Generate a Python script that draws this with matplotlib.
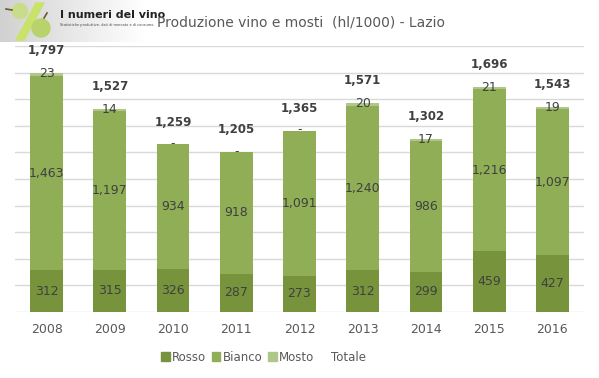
import matplotlib
matplotlib.use("Agg")
from matplotlib import pyplot as plt
from matplotlib.patches import Patch, Circle, Polygon
import numpy as np

years = ["2008", "2009", "2010", "2011", "2012", "2013", "2014", "2015", "2016"]
rosso = [312, 315, 326, 287, 273, 312, 299, 459, 427]
bianco = [1463, 1197, 934, 918, 1091, 1240, 986, 1216, 1097]
mosto = [23, 14, 0, 0, 0, 20, 17, 21, 19]
totale = [1797, 1527, 1259, 1205, 1365, 1571, 1302, 1696, 1543]

c_rosso = "#77933C"
c_bianco = "#8FAE55"
c_mosto = "#AEC889"
txt = "#404040"

fig = plt.figure(figsize=(5.99, 3.78), dpi=100)
ax = fig.add_axes([0.025, 0.175, 0.95, 0.703])

x = np.arange(len(years))
w = 0.52
ax.bar(x, rosso, w, color=c_rosso, zorder=3)
bot2 = np.array(rosso)
ax.bar(x, bianco, w, bottom=bot2, color=c_bianco, zorder=3)
bot3 = bot2 + np.array(bianco)
ax.bar(x, mosto, w, bottom=bot3, color=c_mosto, zorder=3)

def fmt(v):
    return "-" if v == 0 else "{:,}".format(v)

for i in range(len(years)):
    ax.text(x[i], rosso[i] / 2, fmt(rosso[i]), ha="center", va="center",
            fontsize=9, color=txt, zorder=4)
    ax.text(x[i], bot2[i] + bianco[i] / 2, fmt(bianco[i]), ha="center", va="center",
            fontsize=9, color=txt, zorder=4)
    ax.text(x[i], bot3[i] + mosto[i] / 2 + 5, fmt(mosto[i]), ha="center", va="center",
            fontsize=9, color=txt, zorder=4)
    ax.annotate("{:,}".format(totale[i]), (x[i], totale[i]), xytext=(0, 16),
                textcoords="offset points", ha="center", va="center",
                fontsize=8.5, fontweight="bold", color=txt, zorder=4)

ax.set_xlim(-0.5, len(years) - 0.5)
ax.set_ylim(0, 2000)
ax.set_yticks(np.arange(0, 2001, 200))
ax.yaxis.grid(True, color="#D9D9D9", linewidth=1, zorder=0)
ax.set_yticklabels([])
ax.tick_params(axis="y", length=0)
ax.set_xticks(x)
ax.set_xticklabels(years, fontsize=9, color="#595959")
ax.tick_params(axis="x", length=0, pad=8)
for s in ax.spines.values():
    s.set_visible(False)

handles = [Patch(color=c_rosso), Patch(color=c_bianco), Patch(color=c_mosto),
           Patch(facecolor="none", edgecolor="none")]
leg = fig.legend(handles, ["Rosso", "Bianco", "Mosto", "Totale"], loc="center",
                 bbox_to_anchor=(0.44, 0.055), ncol=4, frameon=False, fontsize=8.5,
                 handlelength=0.7, handleheight=0.7, handletextpad=0.2, columnspacing=0.5)
for t in leg.get_texts():
    t.set_color("#595959")

# header
fig.text(0.262, 0.94, "Produzione vino e mosti  (hl/1000) - Lazio", fontsize=10,
         color="#595959", va="center", ha="left")

# logo
lax = fig.add_axes([0, 1 - 42 / 378, 145 / 599, 42 / 378])
lax.set_xlim(0, 145)
lax.set_ylim(42, 0)
lax.axis("off")
grad = np.linspace(0.82, 1.0, 100).reshape(1, -1)
lax.imshow(np.dstack([grad, grad, grad]), extent=(0, 145, 42, 0), aspect="auto")
lax.add_patch(Polygon([[16, 40], [24, 40], [44, 3], [36, 3]], color="#C8E26A"))
lax.add_patch(Circle((20, 11), 7.5, color="#C9DC8A"))
lax.add_patch(Circle((41, 28), 9, color="#B8D26C"))
lax.plot([6, 12], [9, 10], color="#6B5B2A", lw=1.2)
lax.plot([44, 47], [18, 13], color="#6B5B2A", lw=1.2)
lax.text(60, 15, "I numeri del vino", fontsize=8, fontweight="bold",
         color="#222222", va="center", family="Liberation Sans Narrow")
lax.text(60, 25, "Statistiche produttive, dati di mercato e di consumo.",
         fontsize=2.5, color="#444444", va="center")

fig.savefig("out.png", dpi=100)
